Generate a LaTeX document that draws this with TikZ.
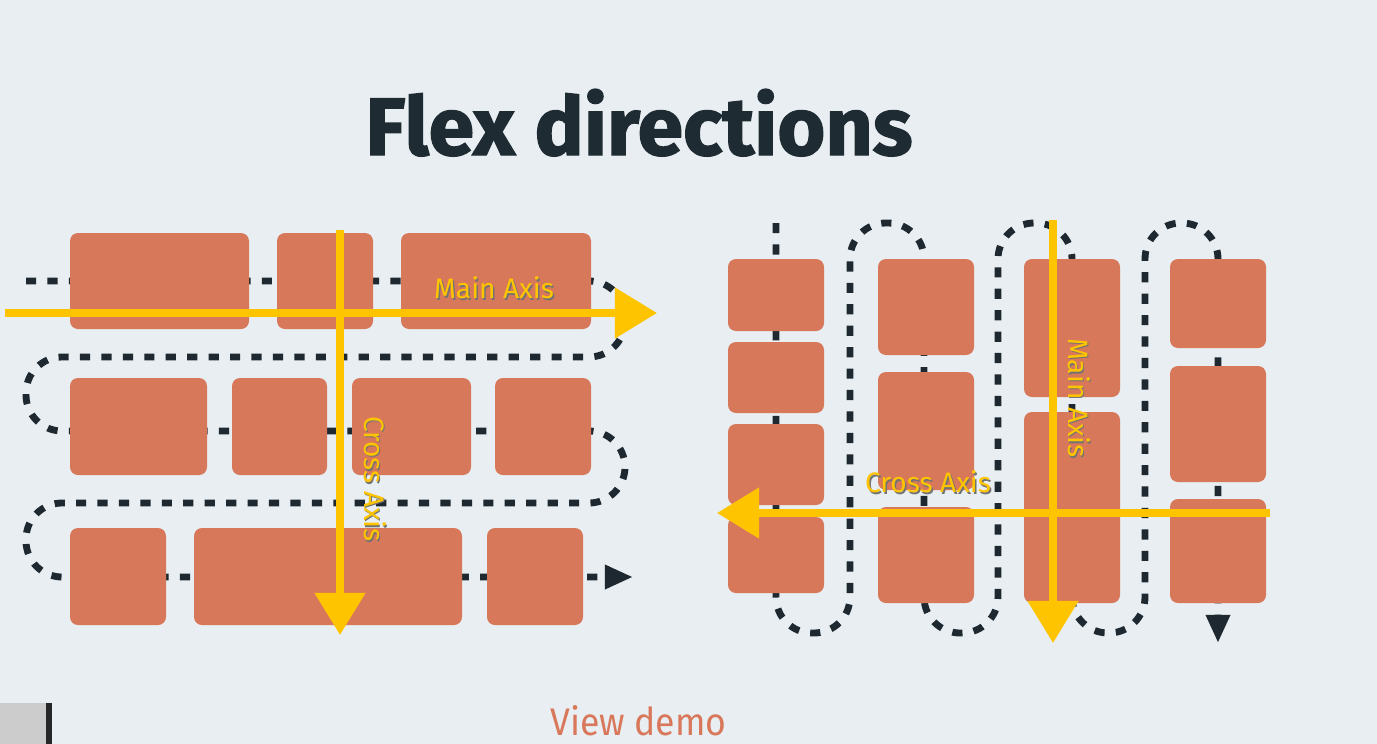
\documentclass[tikz,border=0pt]{standalone}
\usepackage{graphicx}
\usepackage{fontspec}
\setmainfont{Fira Sans}
\newfontfamily\titlefont{Fira Sans}[UprightFont=* Bold,FakeBold=1.6]
\usetikzlibrary{arrows.meta}
\definecolor{slidebg}{HTML}{E8EEF1}
\definecolor{itemorange}{HTML}{D8785A}
\definecolor{axisyellow}{HTML}{FFC400}
\definecolor{pathdark}{HTML}{1E2830}
\definecolor{titledark}{HTML}{1F2B33}
\definecolor{demoorange}{HTML}{D9775A}
\begin{document}
\begin{tikzpicture}[x=0.02cm,y=-0.02cm,
    flexitem/.style={fill=itemorange,rounded corners=0.16cm,inner sep=0pt,outer sep=0pt},
    flexpath/.style={draw=pathdark,line width=3.9pt,dash pattern=on 5.8pt off 6.4pt,rounded corners=0.72cm,
      -{Triangle[length=16pt,width=13pt]}},
    axisarrow/.style={draw=axisyellow,line width=4.4pt,-{Triangle[length=24pt,width=28pt]}},
    axislabel/.style={text=axisyellow,font=\fontsize{16}{18}\selectfont,inner sep=0pt},
    axisshadow/.style={text=black!55,font=\fontsize{16}{18}\selectfont,inner sep=0pt}]
        \fill[slidebg] (0,0) rectangle (1377,744);
        \useasboundingbox (0,0) rectangle (1377,744);
        %% Title
        \node[anchor=base west,inner sep=0pt,text=titledark] (title) at (365,155)
            {\resizebox{10.94cm}{1.32cm}{\titlefont Flex directions}};
        %% Row flow
        \coordinate (lflow) at (26,281);
        \draw[flexpath] (lflow) -- (625,281) -- (625,357) -- (26,357) -- (26,431) -- (625,431)
            -- (625,503) -- (26,503) -- (26,577) -- (633,577);
        %% Column flow
        \coordinate (rflow) at (776,223);
        \draw[flexpath] (rflow) -- (776,633) -- (850,633) -- (850,223) -- (924,223) -- (924,633)
            -- (998,633) -- (998,223) -- (1072,223) -- (1072,633) -- (1145,633) -- (1145,223)
            -- (1218,223) -- (1218,643);
        %% Items
        \foreach \n/\a/\b/\c/\d in {l1/70/233/249/329,l2/277/233/373/329,l3/401/233/591/329,
                l4/70/378/207/475,l5/232/378/327/475,l6/352/378/471/475,l7/495/378/591/475,
                l8/70/528/166/625,l9/194/528/462/625,l10/487/528/583/625,
                r1/728/259/824/331,r2/728/342/824/413,r3/728/424/824/505,r4/728/517/824/593,
                r5/878/259/974/355,r6/878/372/974/490,r7/878/507/974/603,
                r8/1024/259/1120/397,r9/1024/412/1120/603,
                r10/1170/259/1266/348,r11/1170/366/1266/482,r12/1170/499/1266/603}
            \node[flexitem,minimum width={(\c-\a)*0.02cm},minimum height={(\d-\b)*0.02cm}]
                (\n) at ({(\a+\c)/2},{(\b+\d)/2}) {};
        %% Axes
        \coordinate (lmain-s) at (5,313);    \coordinate (lmain-e) at (657,313);
        \coordinate (lcross-s) at (340,230); \coordinate (lcross-e) at (340,635);
        \coordinate (rmain-s) at (1053,220); \coordinate (rmain-e) at (1053,643);
        \coordinate (rcross-s) at (1270,513); \coordinate (rcross-e) at (717,513);
        \draw[axisarrow] (lmain-s) -- (lmain-e);
        \draw[axisarrow] (lcross-s) -- (lcross-e);
        \draw[axisarrow] (rmain-s) -- (rmain-e);
        \draw[axisarrow] (rcross-s) -- (rcross-e);
        %% Axis labels
        \foreach \n/\x/\y/\r/\t in {lmainlbl/494/288/0/Main Axis,lcrosslbl/375/479/-90/Cross Axis,
                rmainlbl/1079/398/-90/Main Axis,rcrosslbl/928/482/0/Cross Axis} {
            \node[axisshadow,rotate=\r] (\n-sh) at (\x+1.5,\y+1.5) {\t};
            \node[axislabel,rotate=\r] (\n) at (\x,\y) {\t};
        }
        %% Footer
        \node[anchor=base west,inner sep=0pt,text=demoorange] (demo) at (550,735)
            {\resizebox{3.52cm}{0.6cm}{View demo}};
        \fill[gray!40] (0,703) rectangle (46,744);
        \fill[black!85] (46,703) rectangle (52,744);
    \end{tikzpicture}
\end{document}
